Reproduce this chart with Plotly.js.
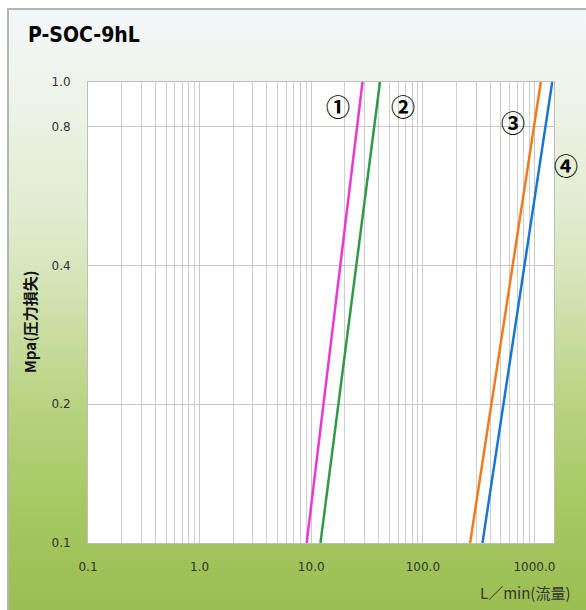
<!DOCTYPE html>
<html>
<head>
<meta charset="utf-8">
<script src="https://cdn.plot.ly/plotly-3.0.1.min.js"></script>
<style>
  html, body { margin: 0; padding: 0; background: #ffffff; }
  #bg { position: absolute; left: 7px; top: 8px; width: 584px; height: 606px;
        border-left: 2px solid #b4b4b4; border-top: 2px solid #b4b4b4;
        background: linear-gradient(to bottom, #f4f7fa 0%, #eef3e8 15%, #e2ecd0 33%, #d5e4b8 45%, #b9d381 65%, #a7c862 82%, #9abd50 100%); }
  #chart { position: absolute; left: 0; top: 0; width: 586px; height: 610px; }
</style>
</head>
<body>
<div id="bg"></div>
<div id="chart"></div>
<script>
// Pressure loss (MPa) points
const pressure = [0.1, 0.2, 0.4, 0.8, 1.0];
// Flow (L/min) for each curve
const flow1 = [9.1, 12.9, 18.3, 25.8, 28.8];
const flow2 = [12.1, 17.5, 25.4, 36.7, 41.3];
const flow3 = [265, 411, 638, 991, 1140];
const flow4 = [342, 527, 813, 1256, 1442];
const seriesNames = ['①', '②', '③', '④'];
const xTickVals = [0.1, 1, 10, 100, 1000];
const xTickText = ['0.1', '1.0', '10.0', '100.0', '1000.0'];
const yTickVals = [0.1, 0.2, 0.4, 0.8, 1.0];
const yTickText = ['0.1', '0.2', '0.4', '0.8', '1.0'];

const colors = ['#ea38d2', '#2f9a4a', '#f07a1e', '#1976d2'];
const flows = [flow1, flow2, flow3, flow4];
// label positions in paper coordinates
const labelPos = [[0.536, 0.950], [0.676, 0.950], [0.912, 0.915], [1.026, 0.820]];

const traces = flows.map((f, i) => ({
  x: f, y: pressure, type: 'scatter', mode: 'lines',
  name: seriesNames[i], line: {color: colors[i], width: 2.5}, hoverinfo: 'x+y'
}));

const annotations = seriesNames.map((s, i) => ({
  x: labelPos[i][0], y: labelPos[i][1], xref: 'paper', yref: 'paper',
  text: '<b>' + s + '</b>', showarrow: false,
  font: {family: 'Noto Sans CJK JP', size: 24, color: '#000', weight: 'bold'},
  xanchor: 'center', yanchor: 'middle'
}));
annotations.push({
  xref: 'paper', yref: 'paper', x: -0.124, y: 0.48, text: '<b>Mpa(圧力損失)</b>', textangle: -90,
  showarrow: false, font: {family: 'Noto Sans CJK JP', size: 15, color: '#111'},
  xanchor: 'center', yanchor: 'middle'
});
annotations.push({
  xref: 'paper', yref: 'paper', x: 1.038, y: -0.108, text: 'L／min(流量)',
  showarrow: false, font: {family: 'Noto Sans CJK JP', size: 15, color: '#333'},
  xanchor: 'right', yanchor: 'middle'
});
annotations.push({
  xref: 'paper', yref: 'paper', x: -0.132, y: 1.101, text: '<b>P-SOC-9hL</b>',
  showarrow: false, font: {family: 'DejaVu Sans Condensed, DejaVu Sans', size: 21, color: '#000'},
  xanchor: 'left', yanchor: 'middle'
});

const layout = {
  width: 586, height: 610,
  margin: {l: 88, r: 32, t: 82, b: 67},
  paper_bgcolor: 'rgba(0,0,0,0)',
  plot_bgcolor: '#ffffff',
  showlegend: false,
  xaxis: {
    type: 'log', range: [-1, 3.175],
    tickmode: 'array', tickvals: xTickVals, ticktext: xTickText,
    ticks: '', ticklabelstandoff: 13,
    showgrid: true, gridcolor: '#c8c8c8', gridwidth: 1,
    minor: {dtick: 'D1', showgrid: true, gridcolor: '#cfcfcf', gridwidth: 1},
    showline: true, linecolor: '#bdbdbd', linewidth: 1, mirror: true,
    zeroline: false,
    tickfont: {family: 'DejaVu Sans', size: 12, color: '#333'}
  },
  yaxis: {
    type: 'log', range: [-1, 0],
    tickmode: 'array', tickvals: yTickVals, ticktext: yTickText,
    ticks: '', ticklabelstandoff: 14,
    showgrid: true, gridcolor: '#c8c8c8', gridwidth: 1,
    showline: true, linecolor: '#bdbdbd', linewidth: 1, mirror: true,
    zeroline: false,
    tickfont: {family: 'DejaVu Sans', size: 12, color: '#333'}
  },
  annotations: annotations
};

Plotly.newPlot('chart', traces, layout, {displayModeBar: false, staticPlot: true});
</script>
</body>
</html>
